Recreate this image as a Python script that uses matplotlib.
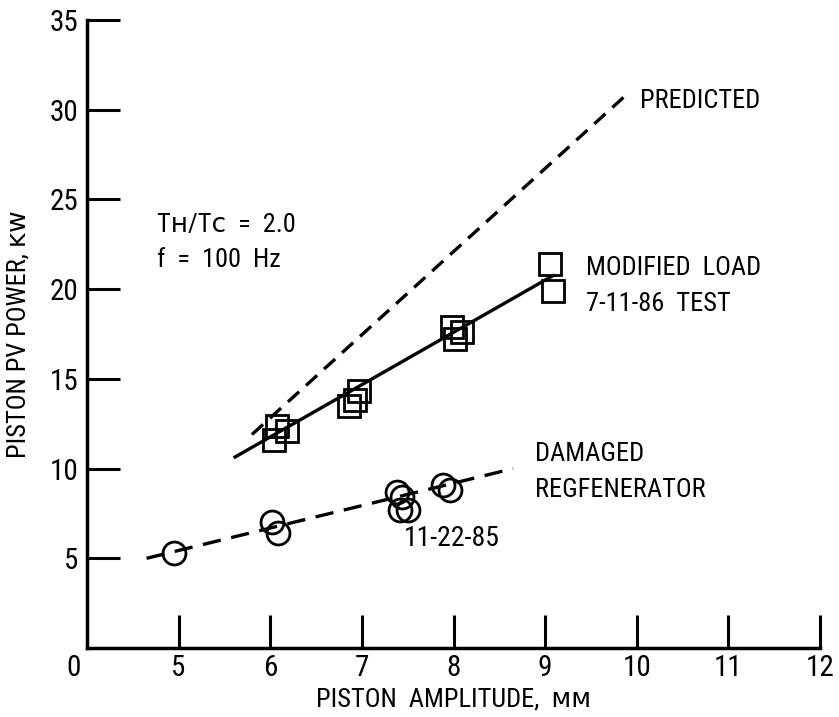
import matplotlib
matplotlib.use("Agg")
import matplotlib.pyplot as plt
import numpy as np

plt.rcParams['font.family'] = ['Roboto Condensed', 'PT Sans Narrow', 'DejaVu Sans']

# broken x axis: "0" sits one tick-spacing left of "5"
x_tick_vals = [5, 6, 7, 8, 9, 10, 11, 12]
x_tick_labels = ['5', '6', '7', '8', '9', '10', '11', '12']
y_ticks = [5, 10, 15, 20, 25, 30, 35]

# data (amplitude mm, power kW)
pred_x = [5.8, 9.9]
pred_y = [11.9, 30.9]

mod_fit_x = [5.6, 9.1]
mod_fit_y = [10.6, 20.8]
mod_x = [6.07, 6.04, 6.18, 6.86, 6.97, 6.92, 7.98, 8.02, 8.09, 9.05, 9.09]
mod_y = [12.4, 11.6, 12.1, 13.5, 14.3, 13.8, 17.9, 17.2, 17.6, 21.4, 19.9]

dam_fit_x = [4.65, 8.65]
dam_fit_y = [5.0, 10.0]
dam_x = [4.95, 6.02, 6.08, 7.38, 7.44, 7.42, 7.5, 7.89, 7.96]
dam_y = [5.3, 7.0, 6.4, 8.7, 8.4, 7.7, 7.7, 9.1, 8.8]


def pos(x):
    # amplitude -> plotting position (5 -> 1, 6 -> 2 ...), origin "0" at 0
    return np.asarray(x, dtype=float) - 4.0


fig = plt.figure(figsize=(8.39, 7.17), dpi=100)
ax = fig.add_axes([0.1037, 0.0962, 0.8737, 0.8758])

lw = 2.4
ax.plot(pos(pred_x), pred_y, color='black', lw=lw, dashes=(4.5, 2.8))
ax.plot(pos(mod_fit_x), mod_fit_y, color='black', lw=lw, solid_capstyle='butt')
ax.plot(pos(mod_x), mod_y, ls='none', marker='s', ms=16, mfc='none', mec='black', mew=2.0)
ax.plot(pos(dam_fit_x), dam_fit_y, color='black', lw=lw, dashes=(5.5, 3.2))
ax.plot(pos(dam_x), dam_y, ls='none', marker='o', ms=16.5, mfc='none', mec='black', mew=2.0)

ax.set_xlim(0, 8)
ax.set_ylim(0, 35)
for s in ['top', 'right']:
    ax.spines[s].set_visible(False)
for s in ['left', 'bottom']:
    ax.spines[s].set_linewidth(2.5)

ax.set_xticks(pos(x_tick_vals))
ax.set_xticklabels(x_tick_labels)
ax.set_yticks(y_ticks)
ax.tick_params(axis='both', direction='in', length=24, width=2.2, labelsize=21)
ax.tick_params(axis='x', pad=4)
ax.tick_params(axis='y', pad=6)
ax.text(-0.15, -1.1, '0', ha='center', va='center', fontsize=21)

ax.set_xlabel('PISTON  AMPLITUDE,  ᴍᴍ', fontsize=19, labelpad=4)
ax.set_ylabel('PISTON PV POWER, ᴋᴡ', fontsize=19, labelpad=14)

# annotations placed in plotting-position coordinates
tk = dict(fontsize=19, ha='left', va='center')
ax.text(6.04, 30.5, 'PREDICTED', **tk)
ax.text(5.45, 21.2, 'MODIFIED  LOAD', **tk)
ax.text(5.45, 19.2, '7-11-86  TEST', **tk)
ax.text(4.89, 10.8, 'DAMAGED', **tk)
ax.text(4.89, 8.8, 'REGFENERATOR', **tk)
ax.text(3.46, 6.1, '11-22-85', fontsize=20, ha='left', va='center')
ax.text(0.76, 23.6, 'Tʜ/Tᴄ  =  2.0', **tk)
ax.text(0.76, 21.6, 'f  =  100  Hz', **tk)

fig.savefig('out.png', dpi=100)
